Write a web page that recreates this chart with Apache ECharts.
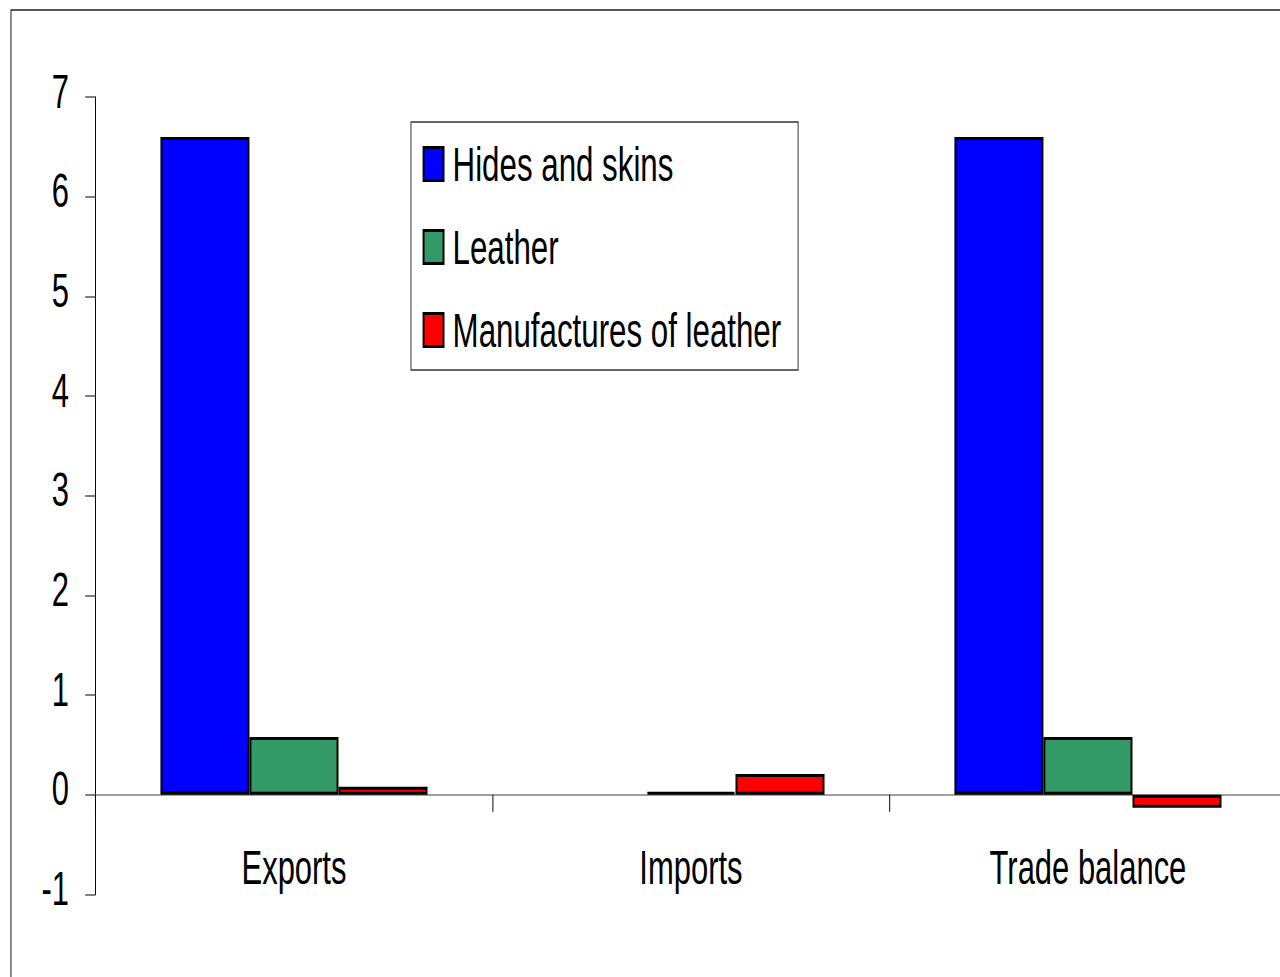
<!DOCTYPE html>
<html>
<head>
<meta charset="utf-8">
<script src="https://cdn.jsdelivr.net/npm/echarts@6/dist/echarts.min.js"></script>
<style>
  html, body { margin: 0; padding: 0; background: #ffffff; overflow: hidden; }
  /* The chart is laid out on a wider canvas and squeezed horizontally,
     giving the narrow lettering of the original report figure. */
  #chart {
    position: absolute; left: 0; top: 0;
    width: 1984px; height: 977px;
    transform: scaleX(0.64516); transform-origin: 0 0;
  }
</style>
</head>
<body>
<div id="chart"></div>
<script>
// Trade in hides, skins and leather (value by flow)
const categories = ['Exports', 'Imports', 'Trade balance'];
const hidesAndSkins = [6.6, 0, 6.6];
const leather = [0.58, 0.03, 0.58];
const manufactures = [0.08, 0.21, -0.13];
const seriesNames = ['Hides and skins', 'Leather', 'Manufactures of leather'];
const yMin = -1, yMax = 7, yStep = 1;

const FONT = '"Liberation Sans", Arial, Helvetica, sans-serif';
const colors = ['#0000ff', '#339966', '#ff0000'];

function barData(values) {
  // a zero-height bar gets no outline so nothing is drawn for it
  return values.map(v => v === 0 ? { value: v, itemStyle: { borderWidth: 0 } } : v);
}

const chart = echarts.init(document.getElementById('chart'), null, { renderer: 'svg' });

chart.setOption({
  animation: false,
  backgroundColor: '#ffffff',
  textStyle: { fontFamily: FONT },
  graphic: [{
    type: 'rect',
    shape: { x: 17, y: 10, width: 4000, height: 2000 },
    style: { fill: 'none', stroke: '#222222', lineWidth: 1.6 },
    silent: true
  }],
  grid: { left: 148, width: 1846, top: 97, bottom: 82.5, containLabel: false, outerBoundsMode: 'none' },
  legend: {
    orient: 'vertical',
    left: 637,
    top: 122,
    padding: [17, 26, 15, 18],
    itemGap: 33,
    itemWidth: 31,
    itemHeight: 33,
    borderColor: '#333333',
    borderWidth: 1.5,
    backgroundColor: '#ffffff',
    icon: 'rect',
    itemStyle: { borderColor: '#000000', borderWidth: 3 },
    textStyle: { fontFamily: FONT, fontSize: 48.5, color: '#000000', lineHeight: 50, padding: [0, 0, 0, 9] },
    data: seriesNames
  },
  xAxis: {
    type: 'category',
    data: categories,
    axisLine: { onZero: true, lineStyle: { color: '#808080', width: 1.5 } },
    axisTick: { show: true, length: 17, lineStyle: { color: '#000000', width: 1.5 } },
    axisLabel: { fontFamily: FONT, fontSize: 48, color: '#000000', margin: -51 },
    splitLine: { show: false }
  },
  yAxis: {
    type: 'value',
    min: yMin, max: yMax, interval: yStep,
    axisLine: { show: true, lineStyle: { color: '#000000', width: 1.5 } },
    axisTick: { show: true, length: 16, lineStyle: { color: '#555555', width: 1.5 } },
    axisLabel: {
      margin: 41,
      formatter: '{v|{value}}',
      rich: { v: { fontFamily: FONT, fontSize: 48, color: '#000000', padding: [0, 0, 12, 0] } }
    },
    splitLine: { show: false }
  },
  series: [
    { name: seriesNames[0], type: 'bar', data: barData(hidesAndSkins), barWidth: 138, barGap: '0%',
      itemStyle: { color: colors[0], borderColor: '#000000', borderWidth: 3 } },
    { name: seriesNames[1], type: 'bar', data: barData(leather), barWidth: 138, barGap: '0%',
      itemStyle: { color: colors[1], borderColor: '#000000', borderWidth: 3 } },
    { name: seriesNames[2], type: 'bar', data: barData(manufactures), barWidth: 138, barGap: '0%',
      itemStyle: { color: colors[2], borderColor: '#000000', borderWidth: 3 } }
  ]
});
</script>
</body>
</html>
